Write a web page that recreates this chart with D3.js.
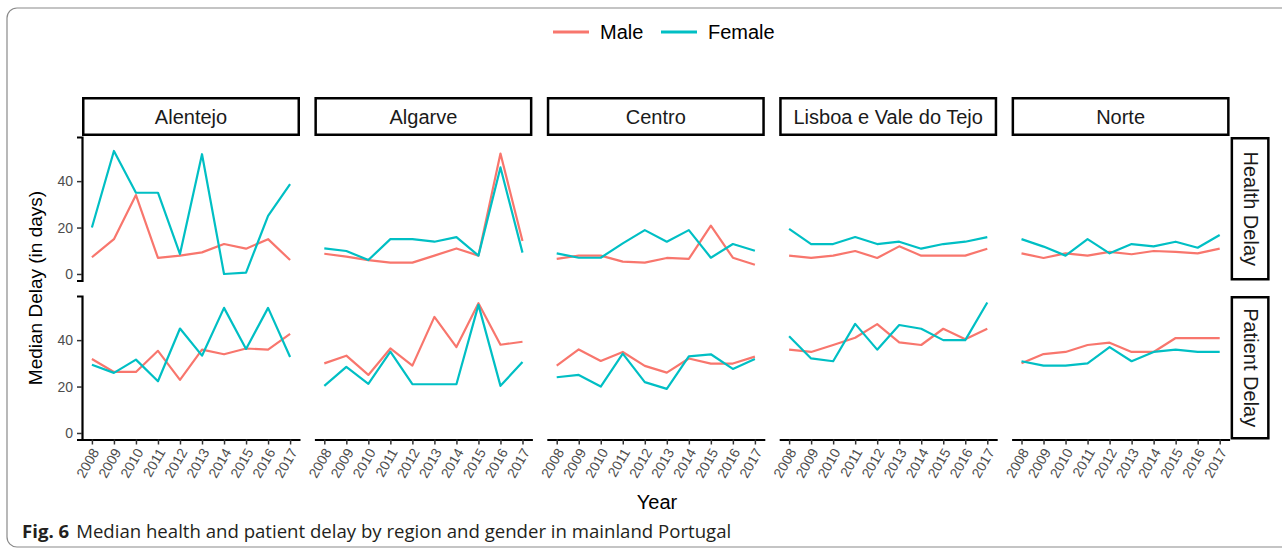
<!DOCTYPE html>
<html><head><meta charset="utf-8">
<script src="https://cdn.jsdelivr.net/npm/d3@7"></script>
<style>
html,body{margin:0;padding:0;background:#fff;}
svg{display:block;font-family:"Liberation Sans",Arial,sans-serif;}
</style></head>
<body><svg id="c" width="1282" height="551"></svg>
<script>
const years = [2008,2009,2010,2011,2012,2013,2014,2015,2016,2017];
const regions = ["Alentejo","Algarve","Centro","Lisboa e Vale do Tejo","Norte"];
const delayTypes = ["Health Delay","Patient Delay"];
const genders = ["Male","Female"];
const yTicks = [0,20,40];

// rows follow the order of `regions`
const healthMale = [
  [7.2,15,34,6.9,7.9,9.3,12.9,10.9,15,6],
  [8.7,7.5,6,4.9,4.9,7.9,11,7.9,51.9,14.2],
  [6.5,7.9,7.9,5.3,4.9,6.9,6.5,20.8,7,4],
  [7.9,6.9,7.9,9.9,6.9,11.9,7.9,7.9,7.9,10.9],
  [8.9,6.9,8.9,7.9,9.5,8.5,9.9,9.5,8.9,10.9]
];
const healthFemale = [
  [20,53,35,35,8.6,51.6,0,0.6,25,38.7],
  [11,9.9,6,15,15,13.9,15.9,7.9,45.9,9.2],
  [8.9,7,7,13.2,18.9,13.9,18.9,7,12.9,10],
  [19.4,12.9,12.9,15.9,12.9,13.9,10.9,12.9,13.9,15.9],
  [15,11.8,7.9,15,8.9,12.9,11.9,13.9,11.3,16.8]
];
const patientMale = [
  [31.9,26.3,26.3,35.4,22.9,35.9,33.9,36.4,35.9,42.7],
  [30,33.3,25,36.4,29,50,37,55.9,38,39.3],
  [29,36,31,34.9,28.9,26,32.1,29.9,29.9,32.9],
  [35.9,34.9,37.9,41,46.9,39,37.9,44.9,40.4,44.9],
  [30,34,34.9,37.9,38.9,34.9,34.9,40.9,40.9,40.9]
];
const patientFemale = [
  [29.4,25.9,31.6,22.3,45,33.3,53.9,36.2,53.9,32.7],
  [20.3,28.5,21.2,35,21,21,21,55.2,20.3,30.6],
  [24,25,20,34.2,21.9,19,33,33.9,27.6,31.9],
  [41.7,32.1,30.9,47,35.9,46.5,44.9,40,40,56.2],
  [30.9,29,29,30,37,30.9,34.9,35.9,34.9,34.9]
];

const colors = {Male:"#F8766D", Female:"#00BFC4"};
const seriesByRow = [
  {Male: healthMale, Female: healthFemale},
  {Male: patientMale, Female: patientFemale}
];

const svg = d3.select("#c");
const colX0 = 82, colStep = 232.4, panelW = 218;
const rowY0 = [137, 296], panelH = 143.5;
const FONT = "Liberation Sans, Arial, sans-serif";

// outer frame
svg.append("rect").attr("x",7).attr("y",8).attr("width",1300).attr("height",539)
  .attr("rx",10).attr("fill","none").attr("stroke","#8a8a8a").attr("stroke-width",1.2);

const allVals = [].concat(...[healthMale,healthFemale,patientMale,patientFemale].map(a=>a.flat()));
const vmax = d3.max(allVals), vmin = 0;
const pad = (vmax - vmin)*0.05;

const x = d3.scaleLinear().domain([2008-0.45, 2017+0.45]).range([0, panelW]);
const y = d3.scaleLinear().domain([vmin-pad, vmax+pad]).range([panelH, 0]);

const line = d3.line().x((d,i)=>x(years[i])).y(d=>y(d));

regions.forEach((reg, ci) => {
  const px = colX0 + ci*colStep;
  // top strip
  const sg = svg.append("g").attr("transform",`translate(${px},97)`);
  sg.append("rect").attr("x",1.25).attr("y",1.25).attr("width",panelW-2.5).attr("height",36.5)
    .attr("fill","#fff").attr("stroke","#000").attr("stroke-width",2.5);
  sg.append("text").attr("x",panelW/2).attr("y",19.5).attr("text-anchor","middle")
    .attr("dominant-baseline","central").attr("font-family",FONT)
    .attr("font-size",20).attr("fill","#1a1a1a").text(reg);

  delayTypes.forEach((dt, ri) => {
    const py = rowY0[ri];
    const g = svg.append("g").attr("transform",`translate(${px},${py})`);
    genders.forEach(gd => {
      g.append("path").datum(seriesByRow[ri][gd][ci])
        .attr("d", line).attr("fill","none").attr("stroke",colors[gd])
        .attr("stroke-width",2.2).attr("stroke-linejoin","round");
    });
    if (ci === 0) {
      const ax = g.append("g").call(d3.axisLeft(y).tickValues(yTicks).tickSize(5).tickPadding(4));
      ax.attr("font-family",FONT);
      ax.select(".domain").attr("stroke","#000").attr("stroke-width",2.2);
      ax.selectAll(".tick line").attr("stroke","#333").attr("stroke-width",1.5);
      ax.selectAll(".tick text").attr("font-size",14).attr("fill","#4d4d4d");
    }
    if (ri === 1) {
      const ax = g.append("g").attr("transform",`translate(0,${panelH})`)
        .call(d3.axisBottom(x).tickValues(years).tickFormat(d3.format("d")).tickSize(5).tickSizeOuter(0));
      ax.attr("font-family",FONT);
      ax.select(".domain").attr("stroke","#000").attr("stroke-width",2.2);
      ax.selectAll(".tick line").attr("stroke","#333").attr("stroke-width",1.5);
      ax.selectAll(".tick text").attr("font-size",14).attr("fill","#4d4d4d")
        .attr("text-anchor","end").attr("dy",null).attr("y",0)
        .attr("transform","translate(3,10) rotate(-60)").attr("dominant-baseline","central");
    }
    if (ci === regions.length-1) {
      const rg = svg.append("g").attr("transform",`translate(${px+panelW+1},${py})`);
      rg.append("rect").attr("x",1.25).attr("y",1.25).attr("width",36.5).attr("height",panelH-2.5)
        .attr("fill","#fff").attr("stroke","#000").attr("stroke-width",2.5);
      rg.append("text").attr("transform",`translate(20,${panelH/2}) rotate(90)`)
        .attr("text-anchor","middle").attr("dominant-baseline","central").attr("font-family",FONT)
        .attr("font-size",20).attr("fill","#1a1a1a").text(dt);
    }
  });
});

// axis titles
svg.append("text").attr("transform","translate(35,288) rotate(-90)").attr("text-anchor","middle")
  .attr("dominant-baseline","central").attr("font-family",FONT)
  .attr("font-size",19).attr("fill","#000").text("Median Delay (in days)");
svg.append("text").attr("x",657).attr("y",502).attr("text-anchor","middle")
  .attr("dominant-baseline","central").attr("font-family",FONT)
  .attr("font-size",20).attr("fill","#000").text("Year");

// legend
const leg = [{g:"Male", lx:553, tx:600},{g:"Female", lx:661, tx:708}];
leg.forEach(l => {
  svg.append("line").attr("x1",l.lx).attr("x2",l.lx+36).attr("y1",32).attr("y2",32)
    .attr("stroke",colors[l.g]).attr("stroke-width",3);
  svg.append("text").attr("x",l.tx).attr("y",32).attr("dominant-baseline","central")
    .attr("font-family",FONT).attr("font-size",20).attr("fill","#000").text(l.g);
});

// caption
const cap = svg.append("text").attr("x",22).attr("y",530).attr("dominant-baseline","central")
  .attr("font-family","'Open Sans', 'Noto Sans', sans-serif").attr("font-size",18.6).attr("fill","#231f20");
cap.append("tspan").attr("font-weight","bold").text("Fig. 6");
cap.append("tspan").attr("dx",7).text("Median health and patient delay by region and gender in mainland Portugal");
</script></body></html>
